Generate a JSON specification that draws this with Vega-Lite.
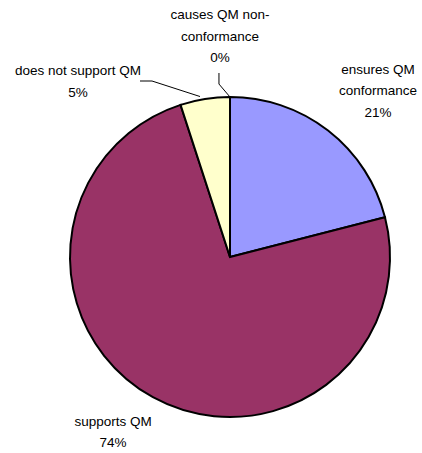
{
  "$schema": "https://vega.github.io/schema/vega-lite/v6.json",
  "width": 320,
  "height": 320,
  "autosize": {"type": "none"},
  "padding": {"left": 70, "top": 97, "right": 32, "bottom": 36},
  "background": "white",
  "config": {"view": {"stroke": null}},
  "layer": [
    {
      "data": {"values": [
        {"category": "ensures QM conformance", "value": 21, "idx": 1},
        {"category": "supports QM", "value": 74, "idx": 2},
        {"category": "does not support QM", "value": 5, "idx": 3},
        {"category": "causes QM non-conformance", "value": 0, "idx": 4}
      ]},
      "mark": {"type": "arc", "stroke": "black", "strokeWidth": 2},
      "encoding": {
        "theta": {"field": "value", "type": "quantitative", "stack": true},
        "order": {"field": "idx", "type": "quantitative"},
        "color": {
          "field": "category", "type": "nominal", "legend": null,
          "scale": {
            "domain": ["ensures QM conformance", "supports QM", "does not support QM", "causes QM non-conformance"],
            "range": ["#9999FF", "#993366", "#FFFFCC", "#CCFFFF"]
          }
        }
      }
    },
    {
      "data": {"values": [
        {"seg": "a", "ord": 1, "u": -0.069, "v": 1.15},
        {"seg": "a", "ord": 2, "u": -0.069, "v": 1.081},
        {"seg": "a", "ord": 3, "u": 0.0, "v": 1.0},
        {"seg": "b", "ord": 1, "u": -0.5625, "v": 1.1},
        {"seg": "b", "ord": 2, "u": -0.4875, "v": 1.1},
        {"seg": "b", "ord": 3, "u": -0.1875, "v": 1.003}
      ]},
      "mark": {"type": "line", "color": "black", "strokeWidth": 1},
      "encoding": {
        "x": {"field": "u", "type": "quantitative", "scale": {"domain": [-1, 1], "nice": false, "zero": false}, "axis": null},
        "y": {"field": "v", "type": "quantitative", "scale": {"domain": [-1, 1], "nice": false, "zero": false}, "axis": null},
        "detail": {"field": "seg"},
        "order": {"field": "ord", "type": "quantitative"}
      }
    },
    {
      "data": {"values": [
        {"label": "causes QM non-\nconformance\n0%", "u": -0.0625, "v": 1.5125},
        {"label": "does not support QM\n5%", "u": -0.95, "v": 1.1625},
        {"label": "ensures QM\nconformance\n21%", "u": 0.925, "v": 1.169},
        {"label": "supports QM\n74%", "u": -0.731, "v": -1.031}
      ]},
      "mark": {"type": "text", "align": "center", "baseline": "middle", "lineBreak": "\n", "lineHeight": 21.5, "fontSize": 13.5, "font": "Liberation Sans", "color": "black", "letterSpacing": -0.3},
      "encoding": {
        "x": {"field": "u", "type": "quantitative", "scale": {"domain": [-1, 1], "nice": false, "zero": false}, "axis": null},
        "y": {"field": "v", "type": "quantitative", "scale": {"domain": [-1, 1], "nice": false, "zero": false}, "axis": null},
        "text": {"field": "label"}
      }
    }
  ]
}
